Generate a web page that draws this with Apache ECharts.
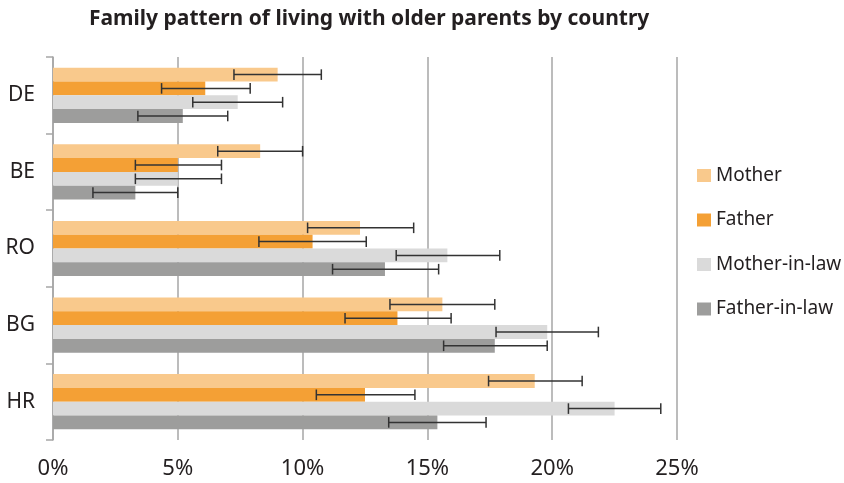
<!DOCTYPE html>
<html><head><meta charset="utf-8">
<script src="https://cdn.jsdelivr.net/npm/echarts@6/dist/echarts.min.js"></script>
<style>html,body{margin:0;padding:0;background:#fff}#c{width:844px;height:483px}</style>
</head><body><div id="c"></div>
<script>
const categories = ['DE', 'BE', 'RO', 'BG', 'HR'];
const seriesNames = ['Mother', 'Father', 'Mother-in-law', 'Father-in-law'];
const mother = [9.0, 8.3, 12.3, 15.6, 19.3];
const father = [6.1, 5.0, 10.4, 13.8, 12.5];
const motherInLaw = [7.4, 5.0, 15.8, 19.8, 22.5];
const fatherInLaw = [5.2, 3.3, 13.3, 17.7, 15.4];
const motherLow = [7.25, 6.6, 10.2, 13.5, 17.45];
const motherHigh = [10.75, 10.0, 14.45, 17.7, 21.2];
const fatherLow = [4.35, 3.3, 8.25, 11.7, 10.55];
const fatherHigh = [7.9, 6.75, 12.55, 15.95, 14.5];
const motherInLawLow = [5.6, 3.3, 13.75, 17.75, 20.65];
const motherInLawHigh = [9.2, 6.75, 17.9, 21.85, 24.35];
const fatherInLawLow = [3.4, 1.6, 11.2, 15.65, 13.45];
const fatherInLawHigh = [7.0, 5.0, 15.45, 19.8, 17.35];
const xTicks = [0, 5, 10, 15, 20, 25];

const values = [mother, father, motherInLaw, fatherInLaw];
const lows = [motherLow, fatherLow, motherInLawLow, fatherInLawLow];
const highs = [motherHigh, fatherHigh, motherInLawHigh, fatherInLawHigh];
const colors = ['#F9C98C', '#F4A035', '#DADADA', '#9D9D9C'];
const GAP = 0.28;
const FONT = 'Noto Sans';

const errData = [];
lows.forEach((arr, s) => arr.forEach((lo, i) => errData.push([i, lo, highs[s][i], s])));

const chart = echarts.init(document.getElementById('c'));
chart.setOption({
  animation: false,
  textStyle: {fontFamily: FONT, color: '#231F20'},
  title: {text: 'Family pattern of living with older parents by country', left: 84, top: 4,
    textStyle: {fontFamily: FONT, fontWeight: 'bold', fontSize: 21, color: '#231F20'}},
  legend: {orient: 'vertical', left: 692, top: 161, itemWidth: 14, itemHeight: 13, itemGap: 25.5,
    icon: 'rect', data: seriesNames,
    textStyle: {fontFamily: FONT, fontSize: 19, color: '#231F20'}},
  grid: {left: 53, right: 167, top: 57, bottom: 43, containLabel: false},
  xAxis: {type: 'value', min: 0, max: 25, interval: 5,
    axisLine: {show: false}, axisTick: {show: false},
    axisLabel: {formatter: v => xTicks.includes(v) ? v + '%' : '', fontSize: 22, color: '#231F20', margin: 18, fontFamily: FONT},
    splitLine: {lineStyle: {color: '#A6A6A6', width: 1.5}}},
  yAxis: {type: 'category', data: categories, inverse: true,
    axisLine: {lineStyle: {color: '#A6A6A6', width: 1.5}},
    axisTick: {show: true, length: 7, lineStyle: {color: '#A6A6A6', width: 1.5}},
    axisLabel: {fontSize: 21, color: '#231F20', margin: 18, fontFamily: FONT}},
  series: values.map((v, s) => ({
    name: seriesNames[s], type: 'bar', data: v, barGap: '0%', barCategoryGap: (GAP * 100) + '%',
    itemStyle: {color: colors[s]}, z: 2
  })).concat([{
    type: 'custom', data: errData, z: 5, encode: {x: [1, 2], y: 0},
    renderItem: function (params, api) {
      const cat = api.value(0), lo = api.value(1), hi = api.value(2), s = api.value(3);
      const band = api.size([0, 1])[1];
      const barW = band * (1 - GAP) / 4;
      const y = api.coord([0, cat])[1] + (s - 1.5) * barW;
      const x1 = api.coord([lo, cat])[0], x2 = api.coord([hi, cat])[0];
      const h = 5.3;
      const st = {stroke: '#333333', lineWidth: 1.5};
      return {type: 'group', children: [
        {type: 'line', shape: {x1: x1, y1: y, x2: x2, y2: y}, style: st},
        {type: 'line', shape: {x1: x1, y1: y - h, x2: x1, y2: y + h}, style: st},
        {type: 'line', shape: {x1: x2, y1: y - h, x2: x2, y2: y + h}, style: st}
      ]};
    }
  }])
});
</script></body></html>
